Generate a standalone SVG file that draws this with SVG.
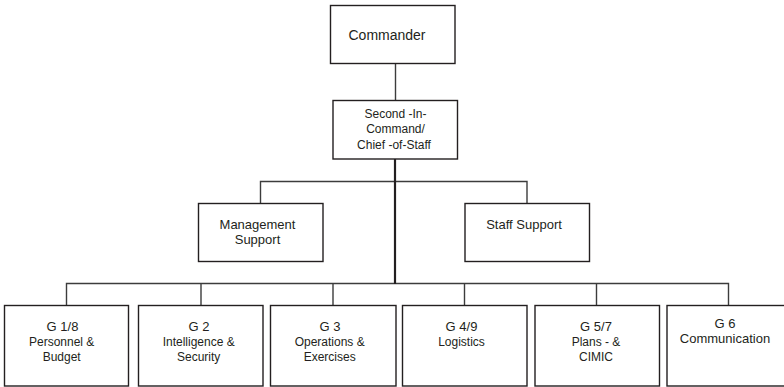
<svg xmlns="http://www.w3.org/2000/svg" width="784" height="387" viewBox="0 0 784 387">
<style>
.box{fill:#fff;stroke:#231f20;stroke-width:1.4}
.ln{fill:none;stroke:#3c3c3c;stroke-width:1.4}
.th{fill:none;stroke:#231f20;stroke-width:2.2}
text{font-family:"Liberation Sans",Arial,sans-serif;fill:#231f20;text-anchor:middle}
.t14{font-size:14px}
.t13{font-size:13px}
.t12{font-size:12px}
</style>
<rect width="784" height="387" fill="#fff"/>
<g id="connectors">
<path class="ln" d="M395.5 63.5V100.5"/>
<path class="ln" d="M260.5 203.5V181.5H527V203.5"/>
<path class="ln" d="M66.5 305.5V283.5H728.5V305.5"/>
<path class="ln" d="M201 283.5V305.5M333 283.5V305.5M464.5 283.5V305.5M596.5 283.5V305.5"/>
<path class="th" d="M395 159V284"/>
</g>
<g id="commander"><rect class="box" x="330.5" y="5.5" width="124.5" height="58"/><text class="t14" x="387" y="40">Commander</text></g>
<g id="second"><rect class="box" x="333" y="100.5" width="124.5" height="58.5"/>
<text class="t12" x="395.5" y="118">Second -In-</text><text class="t12" x="395.5" y="132.5">Command/</text><text class="t12" x="394" y="149">Chief -of-Staff</text></g>
<g id="mgmt"><rect class="box" x="198.5" y="203.5" width="124.5" height="58"/>
<text class="t13" x="257.5" y="228.5">Management</text><text class="t13" x="257.5" y="243.5">Support</text></g>
<g id="staff"><rect class="box" x="465" y="203.5" width="124.5" height="58"/>
<text class="t13" x="524" y="228.5">Staff Support</text></g>
<g id="g18"><rect class="box" x="4.5" y="305.5" width="124" height="80.5"/>
<text class="t13" x="62.5" y="330.5">G 1/8</text><text class="t12" x="61.7" y="346">Personnel &amp;</text><text class="t12" x="61.7" y="361">Budget</text></g>
<g id="g2"><rect class="box" x="138.5" y="305.5" width="124.5" height="80.5"/>
<text class="t13" x="199" y="330.5">G 2</text><text class="t12" x="198.7" y="346">Intelligence &amp;</text><text class="t12" x="198.7" y="361">Security</text></g>
<g id="g3"><rect class="box" x="270.5" y="305.5" width="125.5" height="80.5"/>
<text class="t13" x="330" y="330.5">G 3</text><text class="t12" x="329.7" y="346">Operations &amp;</text><text class="t12" x="329.7" y="361">Exercises</text></g>
<g id="g49"><rect class="box" x="402.5" y="305.5" width="124.5" height="80.5"/>
<text class="t13" x="461.5" y="330.5">G 4/9</text><text class="t12" x="461.5" y="346">Logistics</text></g>
<g id="g57"><rect class="box" x="535" y="305.5" width="124.5" height="80.5"/>
<text class="t13" x="596" y="330.5">G 5/7</text><text class="t12" x="596" y="346">Plans - &amp;</text><text class="t12" x="596" y="361">CIMIC</text></g>
<g id="g6"><rect class="box" x="667" y="305.5" width="125" height="80.5"/>
<text class="t13" x="725" y="327.5">G 6</text><text class="t13" x="725" y="343">Communication</text></g>
</svg>
